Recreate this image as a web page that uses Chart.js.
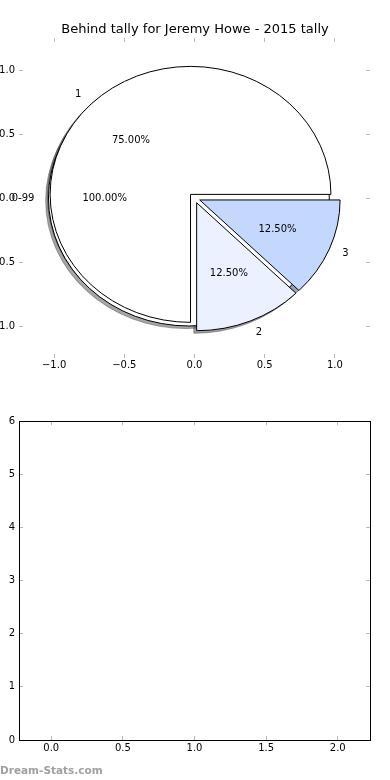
<!DOCTYPE html>
<html>
<head>
<meta charset="utf-8">
<script src="https://cdn.jsdelivr.net/npm/chart.js@4.4.1/dist/chart.umd.min.js"></script>
<style>
    html, body { margin: 0; padding: 0; background: #fff; }
    #wrap { position: relative; width: 390px; height: 780px; overflow: hidden; }
    canvas { position: absolute; left: 0; }
    #chartPie { top: 0; }
    #chartBars { top: 390px; }
    #mark {
        position: absolute; left: 0; top: 765px;
        font: bold 10.5px/11px "DejaVu Sans"; color: #a0a0a0;
    }
</style>
</head>
<body>
<div id="wrap">
    <canvas id="chartPie" width="390" height="390"></canvas>
    <canvas id="chartBars" width="390" height="390"></canvas>
    <div id="mark">Dream-Stats.com</div>
</div>
<script>
/* Behind tally chart - pie of tallies plus (empty) count axes */

const titleText = 'Behind tally for Jeremy Howe - 2015 tally';

// outer range pie
const rangeLabels = ['0-99'];
const rangeCounts = [8];

// tally pie
const tallyLabels = ['1', '2', '3'];
const tallyCounts = [6, 1, 1];

// tick values
const pieTicks = [-1, -0.5, 0, 0.5, 1];
const barXTicks = [0, 0.5, 1, 1.5, 2];
const barYTicks = [0, 1, 2, 3, 4, 5, 6];

// styles
const rangeColors = ['#ffffff'];
const tallyColors = ['#ffffff', '#ebf1fe', '#c4d8fe'];
const EXPLODE = 0.04;
const tickGray = '#b8b8b8';

Chart.defaults.font.family = '"DejaVu Sans", sans-serif';
Chart.defaults.font.size = 10;
Chart.defaults.color = '#000';

const fmtMinus = v => v.toFixed(1).replace('-', '\u2212');

// build wedge descriptions from counts
const wedges = (values, colors, labels) => {
    const total = values.reduce((a, b) => a + b, 0);
    let start = 0;
    return values.map((v, i) => {
        const t1 = start, t2 = start + 360 * v / total;
        start = t2;
        const mid = (t1 + t2) / 2 * Math.PI / 180;
        return {
            t1, t2, mid,
            ox: EXPLODE * Math.cos(mid),
            oy: EXPLODE * Math.sin(mid),
            color: colors[i],
            label: labels[i],
            pct: (100 * v / total).toFixed(2) + '%'
        };
    });
};

const shadeOf = (hex) => {
    const n = parseInt(hex.slice(1), 16);
    const r = Math.round(((n >> 16) & 255) * 0.3);
    const g = Math.round(((n >> 8) & 255) * 0.3);
    const b = Math.round((n & 255) * 0.3);
    return `rgba(${r},${g},${b},0.5)`;
};

const wedgePath = (ctx, sx, sy, w, dx, dy) => {
    const cx = sx.getPixelForValue(w.ox + dx);
    const cy = sy.getPixelForValue(w.oy + dy);
    const rx = sx.getPixelForValue(1) - sx.getPixelForValue(0);
    const ry = sy.getPixelForValue(0) - sy.getPixelForValue(1);
    ctx.beginPath();
    if (w.t2 - w.t1 >= 360) {
        ctx.ellipse(cx, cy, rx, ry, 0, 0, Math.PI * 2);
    } else {
        ctx.moveTo(cx, cy);
        ctx.ellipse(cx, cy, rx, ry, 0, -w.t1 * Math.PI / 180, -w.t2 * Math.PI / 180, true);
        ctx.closePath();
    }
};

const piePlugin = {
    id: 'pieWedges',
    afterDatasetsDraw(chart) {
        const ctx = chart.ctx;
        const sx = chart.scales.x, sy = chart.scales.y;
        const groups = [
            wedges(rangeCounts, rangeColors, rangeLabels),
            wedges(tallyCounts, tallyColors, tallyLabels)
        ];
        const all = groups.flat();
        ctx.save();
        ctx.lineWidth = 1;
        ctx.lineJoin = 'miter';

        // shadows first
        all.forEach(w => {
            wedgePath(ctx, sx, sy, w, -0.02, -0.02);
            ctx.fillStyle = shadeOf(w.color);
            ctx.strokeStyle = shadeOf(w.color);
            ctx.fill();
            ctx.stroke();
        });

        // wedges
        all.forEach(w => {
            wedgePath(ctx, sx, sy, w, 0, 0);
            ctx.fillStyle = w.color;
            ctx.strokeStyle = '#000';
            ctx.fill();
            ctx.stroke();
        });

        // labels
        ctx.fillStyle = '#000';
        ctx.font = '10px "DejaVu Sans"';
        ctx.textBaseline = 'middle';
        all.forEach(w => {
            const c = Math.cos(w.mid), s = Math.sin(w.mid);
            ctx.textAlign = (w.ox + 1.1 * c) > 0 ? 'left' : 'right';
            ctx.fillText(w.label, sx.getPixelForValue(w.ox + 1.1 * c), sy.getPixelForValue(w.oy + 1.1 * s));
            ctx.textAlign = 'center';
            ctx.fillText(w.pct, sx.getPixelForValue(w.ox + 0.6 * c), sy.getPixelForValue(w.oy + 0.6 * s));
        });
        ctx.restore();
    }
};

const tickGrid = {
    display: true,
    drawOnChartArea: false,
    drawTicks: true,
    tickLength: -4,
    color: tickGray,
    lineWidth: 1
};

const setTicks = (vals) => (s) => { s.ticks = vals.map(v => ({ value: v })); };

// axis factory
const axis = (pos, min, max, vals, size, opts = {}) => ({
    type: 'linear',
    position: pos,
    axis: (pos === 'left' || pos === 'right') ? 'y' : 'x',
    min, max,
    grid: tickGrid,
    border: { display: !!opts.border, color: '#000', width: 1 },
    afterBuildTicks: setTicks(vals),
    afterFit: (s) => {
        if (pos === 'left' || pos === 'right') s.width = size; else s.height = size;
    },
    ticks: {
        display: !!opts.labels,
        padding: opts.pad || 4.5,
        callback: opts.fmt || (v => v),
        font: { size: 10 },
        color: '#000'
    }
});

function initCharts() {
    const pieMax = 1.25;

    new Chart(document.getElementById('chartPie'), {
        type: 'scatter',
        data: { datasets: [] },
        options: {
            responsive: false,
            animation: false,
            devicePixelRatio: 1,
            layout: { padding: 0 },
            plugins: {
                legend: { display: false },
                tooltip: { enabled: false },
                title: {
                    display: true,
                    text: titleText,
                    color: '#000',
                    font: { size: 13, weight: 'normal', lineHeight: 1.2 },
                    padding: { top: 22.2, bottom: 0.2 }
                }
            },
            scales: {
                x: axis('bottom', -pieMax, pieMax, pieTicks, 32, { labels: true, fmt: fmtMinus, pad: 5.5 }),
                x2: axis('top', -pieMax, pieMax, pieTicks, 0),
                y: axis('left', -pieMax, pieMax, pieTicks, 19, { labels: true, fmt: fmtMinus, pad: 8 }),
                y2: axis('right', -pieMax, pieMax, pieTicks, 20)
            }
        },
        plugins: [piePlugin]
    });

    const countMax = Math.max(...tallyCounts);

    new Chart(document.getElementById('chartBars'), {
        type: 'scatter',
        data: { datasets: [] },
        options: {
            responsive: false,
            animation: false,
            devicePixelRatio: 1,
            layout: { padding: { top: 31 } },
            plugins: {
                legend: { display: false },
                tooltip: { enabled: false }
            },
            scales: {
                x: axis('bottom', -0.225, tallyCounts.length - 1 + 0.225, barXTicks, 40,
                    { labels: true, border: true, fmt: v => v.toFixed(1), pad: 6.5 }),
                x2: axis('top', -0.225, tallyCounts.length - 1 + 0.225, barXTicks, 0, { border: true }),
                y: axis('left', 0, countMax, barYTicks, 19, { labels: true, border: true, fmt: v => String(v), pad: 8 }),
                y2: axis('right', 0, countMax, barYTicks, 20, { border: true })
            }
        }
    });
}

initCharts();
</script>
</body>
</html>
